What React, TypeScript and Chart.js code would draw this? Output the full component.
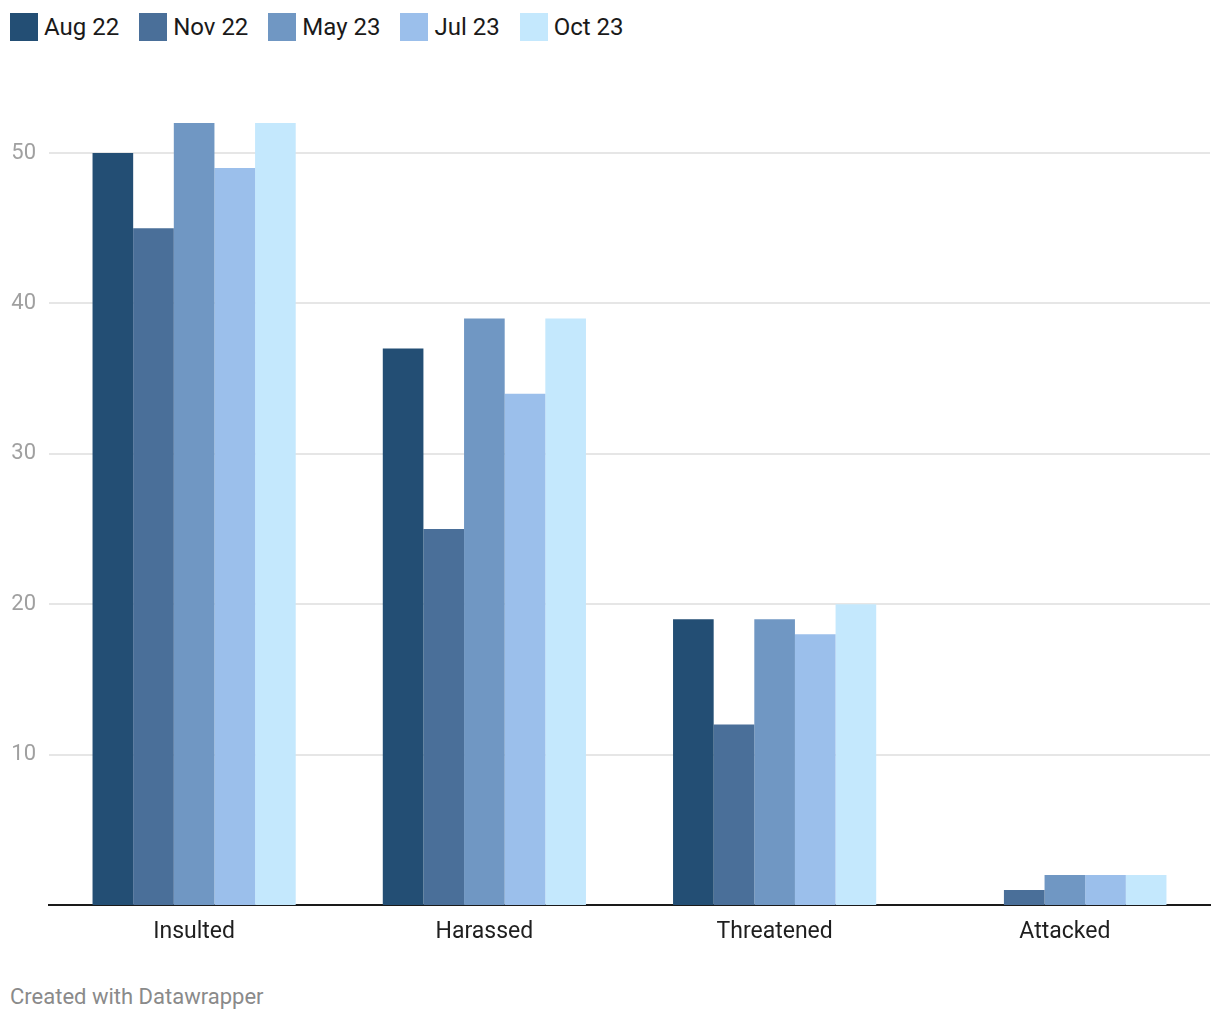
import React, { useEffect, useRef } from "react";
import { Chart, registerables } from "chart.js";

Chart.register(...registerables);

const categories = ["Insulted", "Harassed", "Threatened", "Attacked"];
const seriesLabels = ["Aug 22", "Nov 22", "May 23", "Jul 23", "Oct 23"];
const seriesColors = ["#234e74", "#4a6f99", "#7097c3", "#9bbfeb", "#c4e8fd"];
const aug22 = [50, 37, 19, 0];
const nov22 = [45, 25, 12, 1];
const may23 = [52, 39, 19, 2];
const jul23 = [49, 34, 18, 2];
const oct23 = [52, 39, 20, 2];
const seriesValues = [aug22, nov22, may23, jul23, oct23];
const yTicks = [10, 20, 30, 40, 50];
const yMax = 52;

const FONT = "Roboto, 'Noto Sans', sans-serif";

export default function App() {
  const canvasRef = useRef<HTMLCanvasElement | null>(null);

  useEffect(() => {
    if (!canvasRef.current) return;
    const chart = new Chart(canvasRef.current, {
      type: "bar",
      data: {
        labels: categories,
        datasets: seriesLabels.map((label, i) => ({
          label,
          data: seriesValues[i],
          backgroundColor: seriesColors[i],
          borderWidth: 0,
          categoryPercentage: 0.7,
          barPercentage: 1.0,
        })),
      },
      options: {
        animation: false,
        responsive: false,
        maintainAspectRatio: false,
        layout: { padding: { top: 123, right: 10, bottom: 0, left: 0 } },
        plugins: {
          legend: { display: false },
          tooltip: { enabled: false },
        },
        scales: {
          x: {
            grid: { display: false, drawTicks: false },
            border: { display: true, color: "#1a1a1a", width: 2 },
            ticks: {
              color: "#1f1f1f",
              font: { family: FONT, size: 23 },
              padding: 13,
            },
            afterFit: (scale: any) => {
              scale.height = 55;
            },
          },
          y: {
            min: 0,
            max: yMax,
            grid: { color: "#e6e6e6", lineWidth: 2, drawTicks: false },
            border: { display: false },
            ticks: {
              color: "#a0a0a0",
              font: { family: FONT, size: 22 },
              padding: 13,
            },
            afterBuildTicks: (scale: any) => {
              scale.ticks = yTicks.map((v) => ({ value: v }));
            },
            afterFit: (scale: any) => {
              scale.width = 49;
            },
          },
        },
      },
    });
    return () => chart.destroy();
  }, []);

  return (
    <div style={{ position: "absolute", left: 0, top: 0, width: 1220, height: 1020, background: "#fff", fontFamily: FONT }}>
      <div style={{ position: "absolute", left: 10, top: 13, display: "flex", alignItems: "center", height: 28 }}>
        {seriesLabels.map((label, i) => (
          <div key={label} style={{ display: "flex", alignItems: "center", marginRight: 20 }}>
            <div style={{ width: 28, height: 28, background: seriesColors[i], marginRight: 6 }} />
            <span style={{ fontSize: 24, lineHeight: "28px", color: "#1a1a1a", whiteSpace: "nowrap" }}>{label}</span>
          </div>
        ))}
      </div>
      <canvas ref={canvasRef} width={1220} height={960} style={{ position: "absolute", left: 0, top: 0, width: 1220, height: 960 }} />
      <div style={{ position: "absolute", left: 10, top: 986, fontSize: 22, lineHeight: "22px", color: "#8a8a8a", whiteSpace: "nowrap" }}>
        Created with Datawrapper
      </div>
    </div>
  );
}
